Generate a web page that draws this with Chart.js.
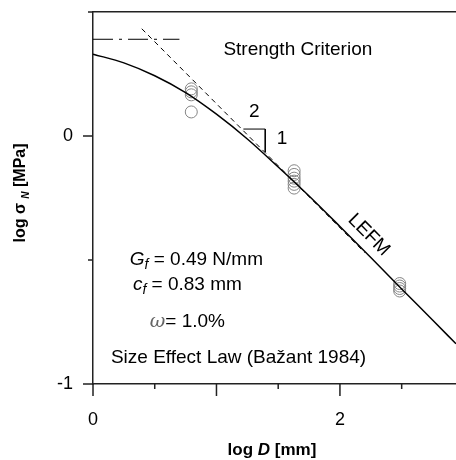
<!DOCTYPE html>
<html>
<head>
<meta charset="utf-8">
<script src="https://cdn.jsdelivr.net/npm/chart.js@4.4.1/dist/chart.umd.min.js"></script>
<style>
  html, body { margin: 0; padding: 0; background: #fff; }
</style>
</head>
<body>
<canvas id="chart" width="456" height="460"></canvas>
<script>
// Size effect law fit, log sigma_N [MPa] against log D [mm]
const curveLogD     = [0, 0.25, 0.5, 0.75, 1.0, 1.25, 1.5, 1.75, 2.0, 2.25, 2.5, 2.75, 2.94];
const curveLogSigma = [0.330, 0.295, 0.243, 0.175, 0.088, -0.012, -0.125, -0.242, -0.365, -0.490, -0.617, -0.742, -0.838];

// Test results (three specimen sizes)
const testLogD     = [0.796, 0.796, 0.796, 0.796, 1.629, 1.629, 1.629, 1.629, 1.629, 1.629, 2.484, 2.484, 2.484, 2.484];
const testLogSigma = [0.190, 0.178, 0.166, 0.097, -0.140, -0.155, -0.170, -0.182, -0.195, -0.210, -0.595, -0.605, -0.615, -0.625];

// Strength criterion (horizontal asymptote)
const strengthLogD     = [0, 0.70];
const strengthLogSigma = [0.39, 0.39];

// LEFM asymptote (slope -1/2)
const lefmLogD     = [0.395, 2.2];
const lefmLogSigma = [0.4325, -0.47];

// Slope triangle 2:1
const slopeLogD     = [1.218, 1.395, 1.395];
const slopeLogSigma = [0.028, 0.028, -0.065];

// Axis ticks
const xTickLabels = [0, 2];
const yTickLabels = [-1, 0];
const xTickMarks  = [0, 0.5, 1, 1.5, 2, 2.5];
const xMajorMarks = [0, 1, 2];
const yTickMarks  = [-1, -0.5, 0, 0.5];
const yMajorMarks = [-1, 0];

const FONT = '"Liberation Sans", Arial, Helvetica, sans-serif';
const pts = (xs, ys) => xs.map((x, i) => ({ x: x, y: ys[i] }));

// keep the plot frame fixed: no automatic label padding
function fixBox(size) {
  return s => {
    if (s.isHorizontal()) s.height = size; else s.width = size;
    s.paddingLeft = s.paddingRight = s.paddingTop = s.paddingBottom = 0;
  };
}

// draw a run of differently styled text pieces from (x, y)
function richWidth(ctx, parts) {
  let w = 0;
  parts.forEach(p => { ctx.font = p.font; w += ctx.measureText(p.text).width; });
  return w;
}
function drawRich(ctx, x, y, parts) {
  parts.forEach(p => {
    ctx.font = p.font;
    ctx.fillStyle = p.color || '#000';
    ctx.fillText(p.text, x, y + (p.dy || 0));
    x += ctx.measureText(p.text).width;
  });
}

const decorations = {
  id: 'decorations',
  afterDraw(chart) {
    const { ctx, chartArea: a } = chart;
    const xs = chart.scales.x, ys = chart.scales.y;
    const X = v => xs.getPixelForValue(v);
    const Y = v => ys.getPixelForValue(v);
    ctx.save();

    // tick marks
    ctx.strokeStyle = '#222';
    ctx.lineWidth = 1.5;
    ctx.beginPath();
    xTickMarks.forEach(v => {
      const len = xMajorMarks.includes(v) ? 12 : 5;
      ctx.moveTo(X(v), a.bottom);
      ctx.lineTo(X(v), a.bottom + len);
    });
    yTickMarks.forEach(v => {
      const len = yMajorMarks.includes(v) ? 10 : 5;
      ctx.moveTo(a.left, Y(v));
      ctx.lineTo(a.left - len, Y(v));
    });
    ctx.stroke();

    ctx.textBaseline = 'alphabetic';
    ctx.textAlign = 'left';
    const big = '19px ' + FONT;
    const it = 'italic 19px ' + FONT;
    const sub = 'italic 14px ' + FONT;

    drawRich(ctx, X(1.056), Y(0.327), [{ text: 'Strength Criterion', font: big }]);
    drawRich(ctx, X(0.298), Y(-0.520), [
      { text: 'G', font: it }, { text: 'f', font: sub, dy: 4 }, { text: ' = 0.49 N/mm', font: big }
    ]);
    drawRich(ctx, X(0.323), Y(-0.621), [
      { text: 'c', font: it }, { text: 'f', font: sub, dy: 4 }, { text: ' = 0.83 mm', font: big }
    ]);
    drawRich(ctx, X(0.46), Y(-0.770), [
      { text: 'ω', font: 'italic 19px "DejaVu Serif", serif', color: '#666' }, { text: '= 1.0%', font: big }
    ]);
    drawRich(ctx, X(0.145), Y(-0.915), [{ text: 'Size Effect Law (Bažant 1984)', font: big }]);

    // slope labels
    ctx.textAlign = 'center';
    ctx.textBaseline = 'middle';
    ctx.font = big;
    ctx.fillStyle = '#000';
    ctx.fillText('2', X(1.306), Y(0.097));
    ctx.fillText('1', X(1.532), Y(-0.012));

    // LEFM label along the asymptote
    ctx.save();
    ctx.translate(X(2.234), Y(-0.399));
    ctx.rotate(Math.PI / 4);
    ctx.fillText('LEFM', 0, 0);
    ctx.restore();

    // axis titles
    ctx.textAlign = 'left';
    ctx.textBaseline = 'alphabetic';
    const xt = [
      { text: 'log ', font: 'bold 17px ' + FONT },
      { text: 'D', font: 'bold italic 17px ' + FONT },
      { text: ' [mm]', font: 'bold 17px ' + FONT }
    ];
    drawRich(ctx, 272 - richWidth(ctx, xt) / 2, 455, xt);

    const yt = [
      { text: 'log σ ', font: 'bold 16px ' + FONT },
      { text: 'N', font: 'bold italic 10px ' + FONT, dy: 4 },
      { text: ' [MPa]', font: 'bold 16px ' + FONT }
    ];
    ctx.save();
    ctx.translate(25, 193);
    ctx.rotate(-Math.PI / 2);
    drawRich(ctx, -richWidth(ctx, yt) / 2, 0, yt);
    ctx.restore();

    ctx.restore();
  }
};

new Chart(document.getElementById('chart'), {
  type: 'scatter',
  data: {
    datasets: [
      {
        label: 'Size effect law',
        data: pts(curveLogD, curveLogSigma),
        showLine: true,
        borderColor: '#000',
        borderWidth: 1.5,
        pointRadius: 0,
        cubicInterpolationMode: 'monotone'
      },
      {
        label: 'Tests',
        data: pts(testLogD, testLogSigma),
        showLine: false,
        pointRadius: 6,
        pointStyle: 'circle',
        borderColor: '#858585',
        backgroundColor: 'rgba(0,0,0,0)',
        borderWidth: 1
      },
      {
        label: 'Slope',
        data: pts(slopeLogD, slopeLogSigma),
        showLine: true,
        borderColor: '#000',
        borderWidth: 1,
        pointRadius: 0
      },
      {
        label: 'LEFM',
        data: pts(lefmLogD, lefmLogSigma),
        showLine: true,
        borderColor: '#000',
        borderWidth: 1,
        borderDash: [5, 4],
        pointRadius: 0
      },
      {
        label: 'Strength criterion',
        data: pts(strengthLogD, strengthLogSigma),
        showLine: true,
        borderColor: '#000',
        borderWidth: 1,
        borderDash: [20, 6, 3, 6],
        pointRadius: 0
      }
    ]
  },
  options: {
    responsive: false,
    animation: false,
    devicePixelRatio: 1,
    layout: { padding: 0, autoPadding: false },
    plugins: { legend: { display: false }, tooltip: { enabled: false } },
    scales: {
      x: {
        type: 'linear',
        position: 'bottom',
        min: 0,
        max: 2.94,
        afterFit: fixBox(76),
        afterBuildTicks: s => { s.ticks = xTickLabels.map(v => ({ value: v })); },
        grid: { display: false, drawTicks: false },
        border: { display: true, color: '#222', width: 1.5 },
        ticks: { color: '#000', font: { family: FONT, size: 18 }, padding: 25, maxRotation: 0 }
      },
      x2: {
        type: 'linear',
        position: 'top',
        min: 0,
        max: 2.94,
        afterFit: fixBox(12),
        grid: { display: false, drawTicks: false },
        border: { display: true, color: '#222', width: 1.5 },
        ticks: { display: false }
      },
      y: {
        type: 'linear',
        position: 'left',
        min: -1,
        max: 0.5,
        afterFit: fixBox(93),
        afterBuildTicks: s => { s.ticks = yTickLabels.map(v => ({ value: v })); },
        grid: { display: false, drawTicks: false },
        border: { display: true, color: '#222', width: 1.5 },
        ticks: { color: '#000', font: { family: FONT, size: 18 }, padding: 20 }
      }
    }
  },
  plugins: [decorations]
});
</script>
</body>
</html>
